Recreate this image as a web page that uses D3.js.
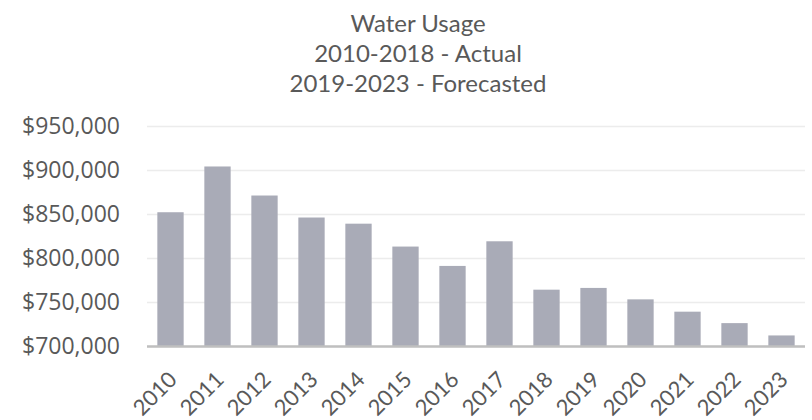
<!DOCTYPE html>
<html>
<head>
<meta charset="utf-8">
<script src="https://cdn.jsdelivr.net/npm/d3@7"></script>
<style>
  body { margin: 0; background: #fff; }
  svg { display: block; }
</style>
</head>
<body>
<div id="chart"></div>
<script>
const years = ['2010', '2011', '2012', '2013', '2014', '2015', '2016', '2017', '2018', '2019', '2020', '2021', '2022', '2023'];
const usage = [852000, 904000, 871000, 846000, 839000, 813000, 791000, 819000, 764000, 766000, 753000, 739000, 726000, 712000];
const yTicks = [700000, 750000, 800000, 850000, 900000, 950000];
const titleLines = ['Water Usage', '2010-2018 - Actual', '2019-2023 - Forecasted'];

const width = 812;
const height = 420;
const margin = { top: 126, right: 7, bottom: 74, left: 147 };

const svg = d3.select('#chart')
  .append('svg')
  .attr('width', width)
  .attr('height', height);

const x = d3.scaleBand()
  .domain(years)
  .range([margin.left, width - margin.right])
  .paddingInner(0.44)
  .paddingOuter(0.22);

const y = d3.scaleLinear()
  .domain([700000, 950000])
  .range([height - margin.bottom, margin.top]);

const fmt = (d) => '$' + d3.format(',')(d);

// title
svg.append('g')
  .selectAll('text')
  .data(titleLines)
  .join('text')
  .attr('x', 418)
  .attr('y', (d, i) => 32 + i * 30)
  .attr('text-anchor', 'middle')
  .attr('font-family', 'Lato, sans-serif')
  .attr('font-size', 24)
  .attr('fill', '#595959')
  .text((d) => d);

// gridlines + y labels
const yAxis = svg.append('g')
  .attr('transform', `translate(${margin.left},0)`)
  .call(d3.axisLeft(y)
    .tickValues(yTicks)
    .tickSize(-(width - margin.left - margin.right))
    .tickPadding(27)
    .tickFormat(fmt));
yAxis.select('.domain').remove();
yAxis.selectAll('.tick line')
  .attr('stroke', '#ececec')
  .attr('stroke-width', 1.5);
yAxis.selectAll('.tick text')
  .attr('font-family', '"Open Sans", sans-serif')
  .attr('font-size', 23)
  .attr('fill', '#595959');

// bars
svg.append('g')
  .selectAll('rect')
  .data(years)
  .join('rect')
  .attr('x', (d) => x(d))
  .attr('width', x.bandwidth())
  .attr('y', (d, i) => y(usage[i]))
  .attr('height', (d, i) => y(700000) - y(usage[i]))
  .attr('fill', '#a9abb7');

// baseline
svg.append('line')
  .attr('x1', margin.left)
  .attr('x2', width - margin.right)
  .attr('y1', y(700000) + 0.5)
  .attr('y2', y(700000) + 0.5)
  .attr('stroke', '#bfbfbf')
  .attr('stroke-width', 2.5);

// x labels
svg.append('g')
  .selectAll('text')
  .data(years)
  .join('text')
  .attr('transform', (d) => `translate(${x(d) + x.bandwidth() / 2 - 3},${y(700000) + 24}) rotate(-45)`)
  .attr('text-anchor', 'end')
  .attr('dy', '0.7em')
  .attr('font-family', 'Lato, sans-serif')
  .attr('font-size', 22)
  .attr('fill', '#595959')
  .text((d) => d);
</script>
</body>
</html>
